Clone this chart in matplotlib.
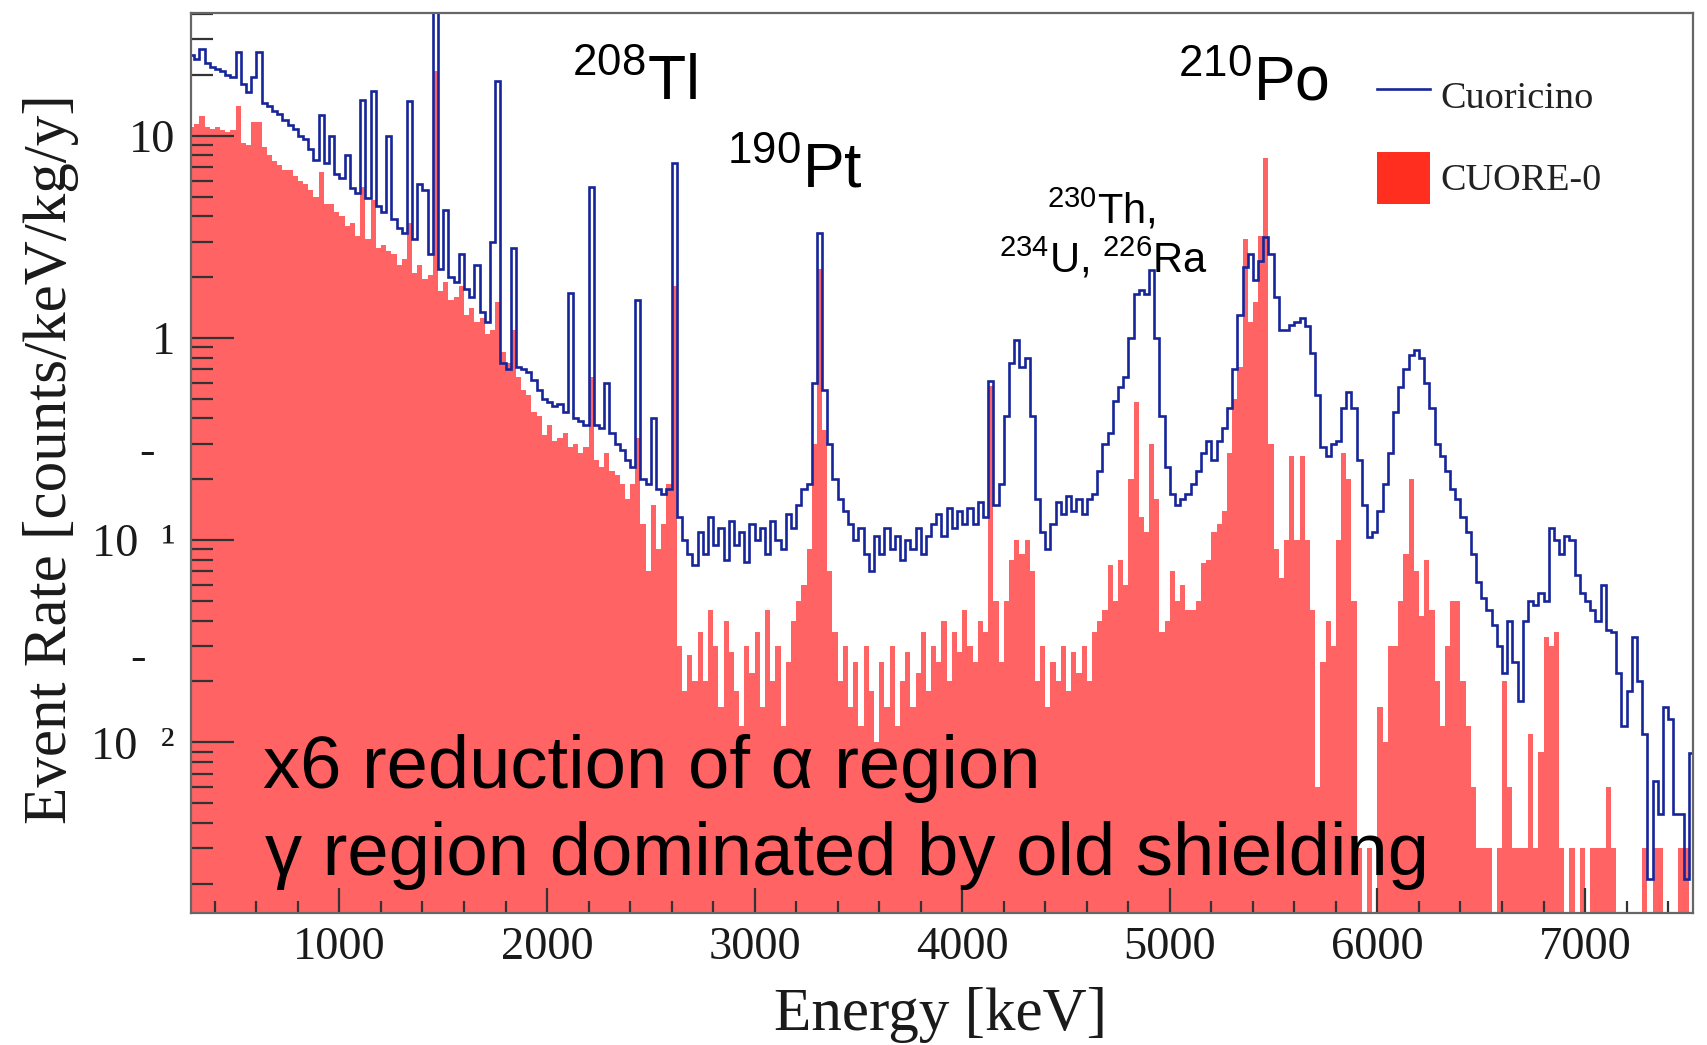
import numpy as np
import matplotlib
matplotlib.use('Agg')
import matplotlib.pyplot as plt
from matplotlib.lines import Line2D
from matplotlib.patches import Patch
from matplotlib.ticker import MultipleLocator, LogLocator, NullFormatter

plt.rcParams['mathtext.fontset'] = 'custom'
plt.rcParams['mathtext.rm'] = 'Liberation Sans'
plt.rcParams['mathtext.it'] = 'Liberation Sans:italic'
plt.rcParams['mathtext.bf'] = 'Liberation Sans:bold'

SERIF = 'Liberation Serif'
SANS = 'Liberation Sans'

# histogram binning, keV (25 keV bins, first bin starts at 250 keV)
bin_start = 250
bin_width = 25

# Cuoricino rate per bin [counts/keV/kg/y]
cuoricino = [
    # 250 - 725
    26, 25, 24, 27, 23, 22, 21.5, 21, 20, 19.5, 26, 18, 16.5, 19.6, 26, 14.5, 14, 13.3, 12.8, 12,
    # 750 - 1225
    11.3, 10.8, 10, 9.6, 8.6, 7.6, 12.7, 7.3, 10, 6.5, 6.2, 8.0, 5.5, 5.2, 15, 4.9, 16.6, 4.5, 4.2, 10,
    # 1250 - 1725
    3.9, 3.5, 3.3, 14.8, 3.1, 5.8, 5.4, 2.6, 60, 2.2, 4.3, 2.0, 1.9, 2.6, 1.75, 1.6, 2.3, 1.35, 1.2, 3.0,
    # 1750 - 2225
    18.6, 0.75, 0.7, 2.8, 0.72, 0.7, 0.68, 0.62, 0.55, 0.5, 0.48, 0.46, 0.47, 0.43, 1.67, 0.4, 0.39, 0.37, 5.6, 0.37,
    # 2250 - 2725
    0.36, 0.6, 0.34, 0.3, 0.28, 0.25, 0.23, 1.55, 0.2, 0.19, 0.4, 0.18, 0.17, 0.18, 7.3, 0.13, 0.1, 0.085, 0.075, 0.11,
    # 2750 - 3225
    0.085, 0.13, 0.095, 0.115, 0.08, 0.125, 0.095, 0.11, 0.078, 0.12, 0.1, 0.115, 0.085, 0.125, 0.1, 0.09, 0.135, 0.115, 0.15, 0.18,
    # 3250 - 3725
    0.19, 0.6, 3.3, 0.55, 0.3, 0.2, 0.16, 0.14, 0.12, 0.1, 0.115, 0.085, 0.07, 0.105, 0.085, 0.115, 0.09, 0.105, 0.08, 0.1,
    # 3750 - 4225
    0.09, 0.115, 0.085, 0.105, 0.12, 0.135, 0.105, 0.145, 0.115, 0.14, 0.12, 0.145, 0.12, 0.155, 0.13, 0.61, 0.15, 0.19, 0.41, 0.75,
    # 4250 - 4725
    0.98, 0.72, 0.8, 0.41, 0.16, 0.11, 0.09, 0.12, 0.155, 0.135, 0.165, 0.14, 0.16, 0.135, 0.16, 0.17, 0.22, 0.3, 0.34, 0.49,
    # 4750 - 5225
    0.57, 0.64, 1.0, 1.66, 1.72, 1.65, 2.17, 1.0, 0.41, 0.23, 0.17, 0.15, 0.16, 0.17, 0.19, 0.22, 0.27, 0.31, 0.25, 0.31,
    # 5250 - 5725
    0.36, 0.45, 0.7, 1.3, 2.25, 2.6, 1.94, 2.4, 3.15, 2.6, 1.6, 1.1, 1.1, 1.16, 1.2, 1.25, 1.15, 0.84, 0.52, 0.29,
    # 5750 - 6225
    0.26, 0.3, 0.31, 0.45, 0.54, 0.45, 0.25, 0.15, 0.104, 0.11, 0.14, 0.19, 0.27, 0.43, 0.57, 0.7, 0.82, 0.87, 0.8, 0.6,
    # 6250 - 6725
    0.45, 0.3, 0.26, 0.22, 0.18, 0.16, 0.13, 0.11, 0.085, 0.062, 0.052, 0.045, 0.038, 0.03, 0.022, 0.04, 0.025, 0.016, 0.04, 0.05,
    # 6750 - 7225
    0.048, 0.055, 0.05, 0.115, 0.1, 0.085, 0.105, 0.1, 0.067, 0.055, 0.05, 0.045, 0.04, 0.06, 0.036, 0.035, 0.022, 0.012, 0.018, 0.033,
    # 7250 - 7500
    0.02, 0.011, 0.0021, 0.0064, 0.0044, 0.015, 0.013, 0.0044, 0.0044, 0.0021, 0.0089,
]

# CUORE-0 rate per bin, same binning
cuore0 = [
    # 250 - 725
    11, 11, 11.5, 12.5, 11, 10.8, 11, 10.7, 10.5, 10.7, 14, 9.2, 9.0, 11.7, 11.7, 8.8, 8.0, 7.5, 7.2, 6.8,
    # 750 - 1225
    6.8, 6.3, 6.0, 5.8, 5.4, 5.0, 6.6, 4.6, 4.6, 4.2, 4.0, 3.6, 3.7, 3.2, 5.6, 3.1, 4.8, 2.8, 2.9, 2.7,
    # 1250 - 1725
    2.6, 2.3, 2.45, 3.7, 2.1, 2.3, 1.95, 2.05, 21, 1.7, 1.9, 1.55, 1.6, 1.8, 1.3, 1.4, 1.2, 1.25, 1.05, 1.1,
    # 1750 - 2225
    1.5, 0.85, 0.75, 1.1, 0.64, 0.55, 0.52, 0.43, 0.41, 0.33, 0.37, 0.31, 0.32, 0.34, 0.29, 0.3, 0.27, 0.29, 0.64, 0.25,
    # 2250 - 2725
    0.23, 0.27, 0.22, 0.21, 0.19, 0.16, 0.19, 0.32, 0.12, 0.07, 0.15, 0.09, 0.12, 0.19, 1.8, 0.03, 0.018, 0.027, 0.02, 0.035,
    # 2750 - 3225
    0.02, 0.045, 0.03, 0.015, 0.04, 0.028, 0.018, 0.012, 0.03, 0.022, 0.035, 0.015, 0.045, 0.02, 0.03, 0.012, 0.025, 0.04, 0.05, 0.06,
    # 3250 - 3725
    0.09, 0.3, 2.2, 0.35, 0.07, 0.035, 0.02, 0.03, 0.015, 0.025, 0.012, 0.03, 0.018, 0.01, 0.025, 0.015, 0.03, 0.012, 0.02, 0.028,
    # 3750 - 4225
    0.015, 0.022, 0.035, 0.018, 0.03, 0.025, 0.04, 0.02, 0.035, 0.028, 0.045, 0.03, 0.025, 0.04, 0.035, 0.58, 0.05, 0.025, 0.05, 0.08,
    # 4250 - 4725
    0.1, 0.085, 0.1, 0.07, 0.02, 0.03, 0.015, 0.025, 0.02, 0.03, 0.018, 0.028, 0.022, 0.03, 0.02, 0.035, 0.04, 0.045, 0.075, 0.05,
    # 4750 - 5225
    0.08, 0.06, 0.2, 0.48, 0.13, 0.11, 0.3, 0.16, 0.035, 0.04, 0.07, 0.05, 0.06, 0.045, 0.045, 0.05, 0.077, 0.08, 0.11, 0.12,
    # 5250 - 5725
    0.14, 0.27, 0.5, 0.72, 3.1, 1.2, 1.5, 3.2, 7.8, 0.3, 0.09, 0.065, 0.1, 0.26, 0.1, 0.26, 0.1, 0.045, 0.006, 0.025,
    # 5750 - 6225
    0.04, 0.03, 0.1, 0.27, 0.2, 0.05, 0.003, 0, 0.003, 0, 0.015, 0.01, 0.03, 0.03, 0.05, 0.085, 0.2, 0.07, 0.042, 0.08,
    # 6250 - 6725
    0.045, 0.02, 0.012, 0.03, 0.05, 0.05, 0.02, 0.012, 0.006, 0.003, 0.003, 0.003, 0, 0.003, 0.02, 0.006, 0.003, 0.003, 0.003, 0.011,
    # 6750 - 7225
    0.003, 0.009, 0.033, 0.03, 0.035, 0.003, 0, 0.003, 0, 0.003, 0, 0.003, 0.003, 0.003, 0.006, 0.003, 0, 0, 0, 0,
    # 7250 - 7500
    0, 0.003, 0, 0.003, 0.003, 0, 0, 0, 0.003, 0.003, 0,
]

xticks = [1000, 2000, 3000, 4000, 5000, 6000, 7000]
yticks = [0.01, 0.1, 1, 10]
ytick_labels = ['10  \u00b2', '10  \u00b9', '1', '10']

edges = bin_start + bin_width * np.arange(len(cuoricino) + 1)

fig = plt.figure(figsize=(17.07, 10.45), dpi=100)
ax = fig.add_axes([0.1119, 0.1263, 0.8799, 0.8612])

ax.stairs(cuore0, edges, fill=True, baseline=1e-6, color='#ff6363', lw=0, zorder=1)
ax.stairs(cuoricino, edges, baseline=None, color='#17259a', lw=1.9, zorder=2)

ax.set_yscale('log')
ax.set_xlim(285, 7520)
ax.set_ylim(1.43e-3, 40.5)

ax.set_xticks(xticks)
ax.xaxis.set_minor_locator(MultipleLocator(200))
ax.set_yticks(yticks, labels=ytick_labels)
ax.yaxis.set_minor_locator(LogLocator(base=10, subs=np.arange(2, 10)))
ax.yaxis.set_minor_formatter(NullFormatter())

for lab in ax.get_xticklabels() + ax.get_yticklabels():
    lab.set_family(SERIF)
    lab.set_color('#1a1a1a')

ax.tick_params(axis='y', which='major', direction='in', length=31, width=1.6,
               pad=11.5, labelsize=33.5, color='#333333')
ax.tick_params(axis='y', which='minor', direction='in', length=16, width=1.6,
               color='#333333')
ax.tick_params(axis='x', which='major', direction='in', length=18, width=1.6,
               pad=10, labelsize=33.5, color='#333333')
ax.tick_params(axis='x', which='minor', direction='in', length=9, width=1.6,
               color='#333333')
for sp in ax.spines.values():
    sp.set_color('#666666')
    sp.set_linewidth(1.6)

# displaced minus signs of the 10^-1 and 10^-2 labels
ytr = ax.get_yaxis_transform()
ax.text(-0.0293, 0.1 * 10 ** 0.43, '-', transform=ytr, ha='center', va='center',
        fontsize=33.5, family=SERIF, color='#1a1a1a', clip_on=False)
ax.text(-0.0353, 0.01 * 10 ** 0.415, '-', transform=ytr, ha='center', va='center',
        fontsize=33.5, family=SERIF, color='#1a1a1a', clip_on=False)

fig.text(0.5507, 0.0287, 'Energy [keV]', ha='center', va='center',
         fontsize=44, family=SERIF, color='#1a1a1a')
fig.text(0.030, 0.561, 'Event Rate [counts/keV/kg/y]', ha='center', va='center',
         rotation=90, fontsize=44, family=SERIF, color='#1a1a1a')

# isotope labels
big = dict(transform=ax.transAxes, ha='left', va='baseline', fontsize=45,
           family=SANS, color='black')
ax.text(0.2537, 0.9033, r'$^{208}$Tl', **big)
ax.text(0.3569, 0.8067, r'$^{190}$Pt', **big)
ax.text(0.6571, 0.9033, r'$^{210}$Po', **big)
small = dict(big, fontsize=30)
ax.text(0.5699, 0.7667, r'$^{230}$Th,', **small)
ax.text(0.5379, 0.7122, r'$^{234}$U, $^{226}$Ra', **small)

note = dict(transform=ax.transAxes, ha='left', va='baseline', fontsize=53.5,
            family=SANS, color='black')
ax.text(0.0479, 0.1389, 'x6 reduction of \u03b1 region', **note)
ax.text(0.0493, 0.0422, '\u03b3 region dominated by old shielding', **note)

handles = [Line2D([], [], color='#17259a', lw=1.9),
           Patch(facecolor='#ff2e1f', edgecolor='none')]
leg = ax.legend(handles, ['Cuoricino', 'CUORE-0'], loc='upper left',
                bbox_to_anchor=(0.7896, 0.9368), frameon=False, borderpad=0,
                borderaxespad=0, handlelength=1.4, handleheight=1.7,
                labelspacing=0.8, handletextpad=0.25,
                prop={'family': SERIF, 'size': 27.5})
for t in leg.get_texts():
    t.set_color('#222222')

fig.savefig('out.png', dpi=100)
